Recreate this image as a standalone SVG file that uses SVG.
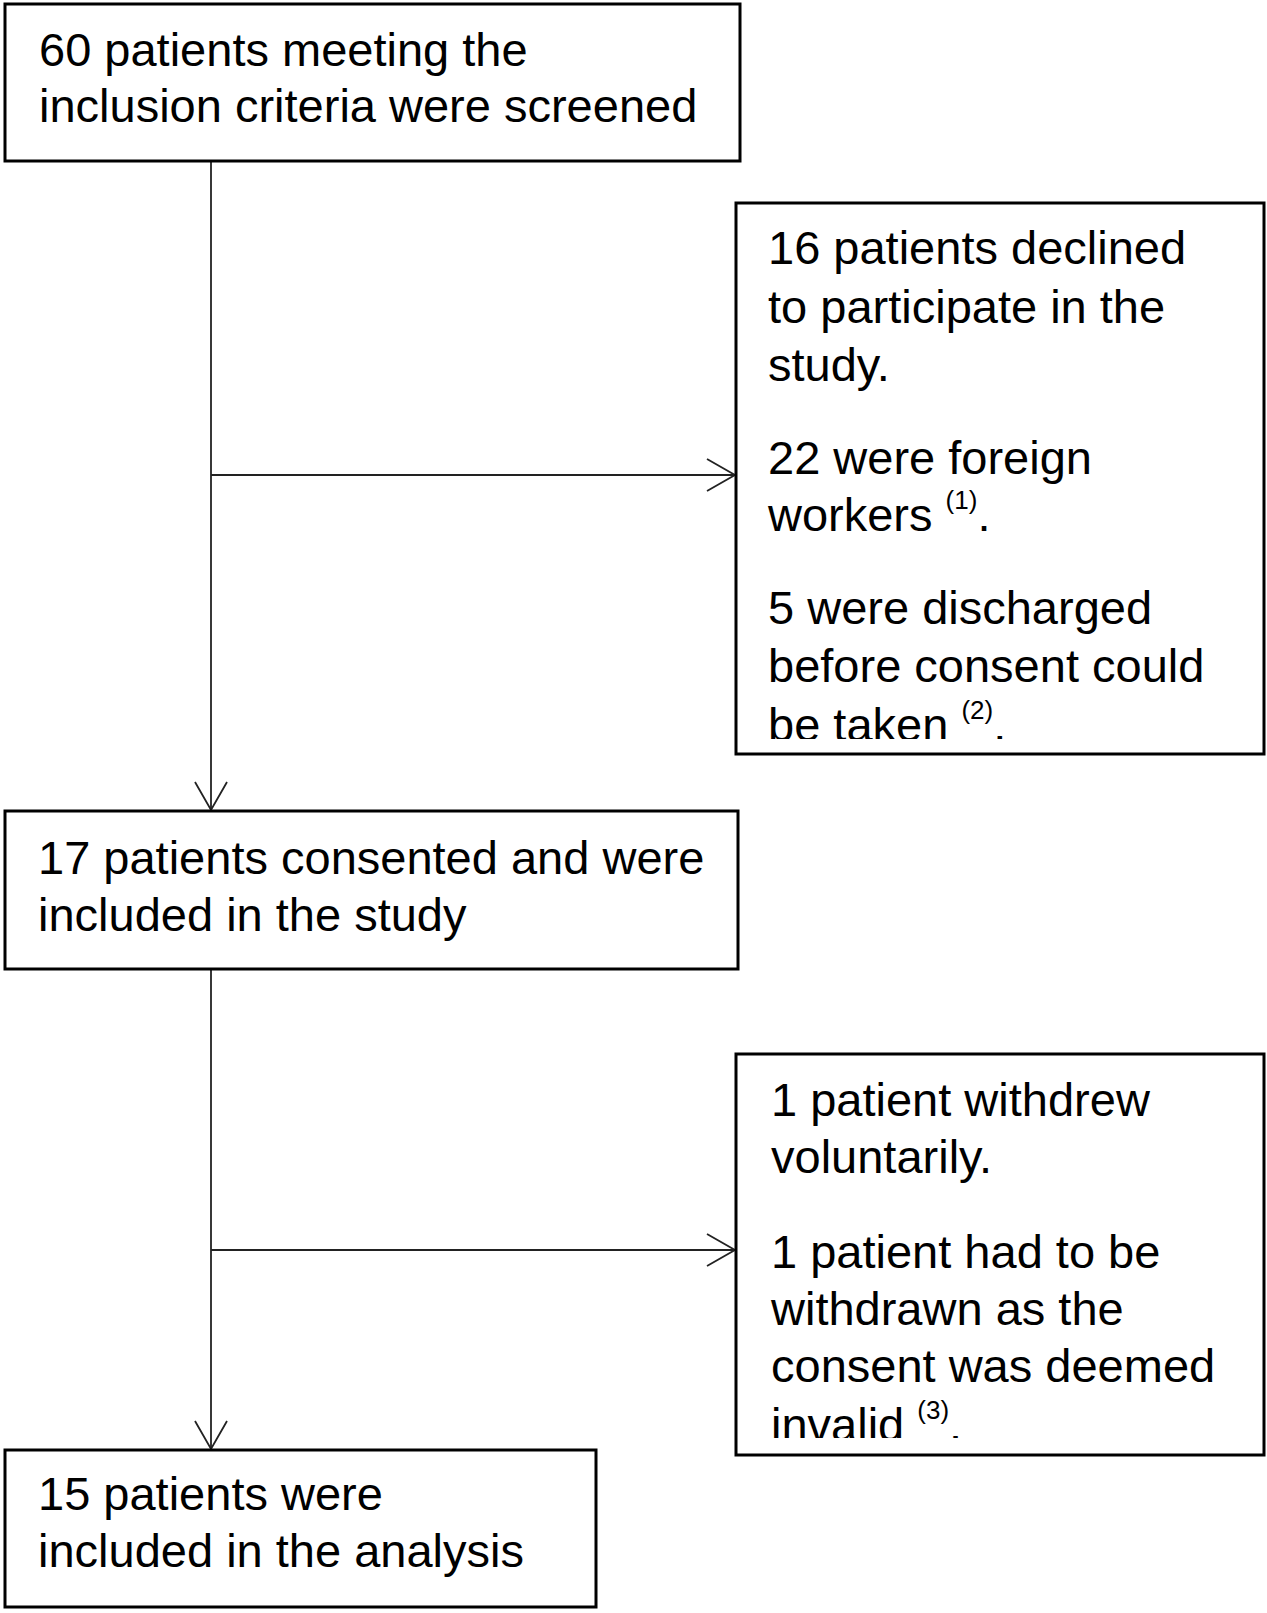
<svg xmlns="http://www.w3.org/2000/svg" width="1267" height="1613" viewBox="0 0 1267 1613">
<defs>
<style>
.box{fill:#fff;stroke:#000;stroke-width:3}
.t{font-family:"Liberation Sans",Arial,sans-serif;font-size:47px;fill:#000}
.sup{font-size:26px}
.ln{fill:none;stroke:#222;stroke-width:1.8}
</style>
<marker id="arr" markerWidth="34" markerHeight="40" refX="30" refY="20" orient="auto" markerUnits="userSpaceOnUse">
<path d="M2,4 L30,20 L2,36" fill="none" stroke="#222" stroke-width="1.8"/>
</marker>
<clipPath id="c2"><rect x="736" y="203" width="528" height="536"/></clipPath>
<clipPath id="c5"><rect x="736" y="1054" width="528" height="384"/></clipPath>
</defs>
<rect width="1267" height="1613" fill="#fff"/>
<g id="connectors">
<line class="ln" x1="211" y1="161" x2="211" y2="810" marker-end="url(#arr)"/>
<line class="ln" x1="211" y1="475" x2="735" y2="475" marker-end="url(#arr)"/>
<line class="ln" x1="211" y1="969" x2="211" y2="1449" marker-end="url(#arr)"/>
<line class="ln" x1="211" y1="1250" x2="735" y2="1250" marker-end="url(#arr)"/>
</g>
<g id="screened">
<rect class="box" x="5" y="4" width="735" height="157"/>
<text class="t" x="39" y="66">60 patients meeting the</text>
<text class="t" x="39" y="122">inclusion criteria were screened</text>
</g>
<g id="excluded1">
<rect class="box" x="736" y="203" width="528" height="551"/>
<g clip-path="url(#c2)">
<text class="t" x="768" y="264">16 patients declined</text>
<text class="t" x="768" y="323">to participate in the</text>
<text class="t" x="768" y="381">study.</text>
<text class="t" x="768" y="474">22 were foreign</text>
<text class="t" x="768" y="531">workers <tspan class="sup" dy="-22">(1)</tspan><tspan dy="22">.</tspan></text>
<text class="t" x="768" y="624">5 were discharged</text>
<text class="t" x="768" y="682">before consent could</text>
<text class="t" x="768" y="741">be taken <tspan class="sup" dy="-22">(2)</tspan><tspan dy="22">.</tspan></text>
</g>
</g>
<g id="consented">
<rect class="box" x="5" y="811" width="733" height="158"/>
<text class="t" x="38" y="874">17 patients consented and were</text>
<text class="t" x="38" y="931">included in the study</text>
</g>
<g id="excluded2">
<rect class="box" x="736" y="1054" width="528" height="401"/>
<g clip-path="url(#c5)">
<text class="t" x="771" y="1116">1 patient withdrew</text>
<text class="t" x="771" y="1173">voluntarily.</text>
<text class="t" x="771" y="1268">1 patient had to be</text>
<text class="t" x="771" y="1325">withdrawn as the</text>
<text class="t" x="771" y="1382">consent was deemed</text>
<text class="t" x="771" y="1441">invalid <tspan class="sup" dy="-22">(3)</tspan><tspan dy="22">.</tspan></text>
</g>
</g>
<g id="analysis">
<rect class="box" x="5" y="1450" width="591" height="157"/>
<text class="t" x="38" y="1510">15 patients were</text>
<text class="t" x="38" y="1567">included in the analysis</text>
</g>
</svg>
